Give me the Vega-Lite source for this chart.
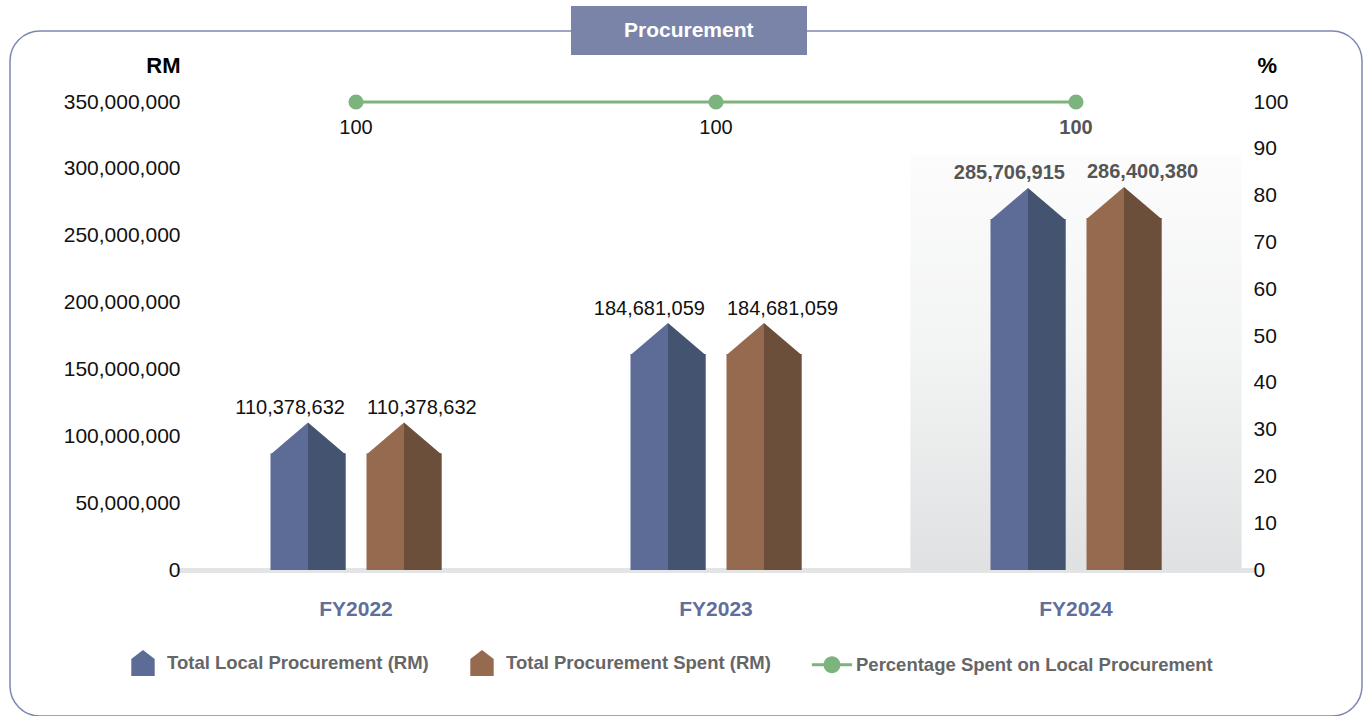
{
  "$schema": "https://vega.github.io/schema/vega-lite/v6.json",
  "width": 1352,
  "height": 685,
  "autosize": {"type": "none"},
  "padding": {"left": 10, "top": 31, "right": 10, "bottom": 0},
  "background": "white",
  "config": {
    "font": "Liberation Sans",
    "view": {"stroke": "#7d86b3", "strokeWidth": 1.5, "cornerRadius": 30},
    "axis": {"grid": false, "ticks": false, "domain": false, "labelFont": "Liberation Sans", "titleFont": "Liberation Sans"},
    "axisX": {"offset": -146, "domain": true, "domainColor": "#e3e4e5", "domainWidth": 5, "labelPadding": 28, "labelFontSize": 21, "labelFontWeight": "bold", "labelColor": "#5f6e9b", "labelAngle": 0},
    "axisLeft": {"offset": -174, "labelPadding": 4, "labelFontSize": 21, "labelColor": "#111111", "titleAngle": 0, "titleAlign": "right", "titleBaseline": "alphabetic", "titleX": -4, "titleY": 41, "titleFontSize": 22, "titleFontWeight": "bold", "titleColor": "#000000"},
    "axisRight": {"offset": -116, "labelPadding": 7, "labelFontSize": 21, "labelColor": "#111111", "titleAngle": 0, "titleAlign": "left", "titleBaseline": "alphabetic", "titleX": 11, "titleY": 41, "titleFontSize": 22, "titleFontWeight": "bold", "titleColor": "#000000"}
  },
  "datasets": {
    "bars": [
      {"year": "FY2022", "series": "Total Local Procurement (RM)", "value": 110378632},
      {"year": "FY2022", "series": "Total Procurement Spent (RM)", "value": 110378632},
      {"year": "FY2023", "series": "Total Local Procurement (RM)", "value": 184681059},
      {"year": "FY2023", "series": "Total Procurement Spent (RM)", "value": 184681059},
      {"year": "FY2024", "series": "Total Local Procurement (RM)", "value": 285706915},
      {"year": "FY2024", "series": "Total Procurement Spent (RM)", "value": 286400380}
    ],
    "pct": [
      {"year": "FY2022", "series": "Percentage Spent on Local Procurement", "pct": 100},
      {"year": "FY2023", "series": "Percentage Spent on Local Procurement", "pct": 100},
      {"year": "FY2024", "series": "Percentage Spent on Local Procurement", "pct": 100}
    ]
  },
  "resolve": {"scale": {"y": "independent"}},
  "layer": [
    {
      "data": {"name": "bars"},
      "encoding": {
        "x": {"field": "year", "type": "nominal", "title": null, "scale": {"domain": ["FY2022", "FY2023", "FY2024"], "range": [166, 1246], "paddingInner": 0, "paddingOuter": 0}}
      },
      "layer": [
        {
          "transform": [{"filter": "datum.year === 'FY2024' && datum.series === 'Total Local Procurement (RM)'"}],
          "mark": {"type": "bar", "width": {"band": 0.92}, "color": {"gradient": "linear", "x1": 0, "y1": 0, "x2": 0, "y2": 1, "stops": [{"offset": 0, "color": "#fcfcfc"}, {"offset": 0.45, "color": "#f3f4f4"}, {"offset": 1, "color": "#e0e1e2"}]}},
          "encoding": {
            "y": {"datum": 310000000, "type": "quantitative", "title": "RM", "scale": {"domain": [0, 350000000], "range": [539, 71], "nice": false}, "axis": {"orient": "left", "values": [0, 50000000, 100000000, 150000000, 200000000, 250000000, 300000000, 350000000], "format": ",d"}},
            "y2": {"datum": 0}
          }
        },
        {
          "mark": {"type": "bar", "width": 75, "yOffset": 31},
          "encoding": {
            "xOffset": {"field": "series", "type": "nominal", "scale": {"domain": ["Total Local Procurement (RM)", "Total Procurement Spent (RM)"], "paddingOuter": 0.875, "paddingInner": 0}},
            "y": {"field": "value", "type": "quantitative", "title": "RM"},
            "y2": {"datum": 0},
            "color": {"condition": {"test": "datum.series === 'Total Local Procurement (RM)'", "value": "#5c6c96"}, "value": "#966a4e"}
          }
        },
        {
          "transform": [{"filter": "datum.series === 'Total Local Procurement (RM)'"}],
          "mark": {"type": "rule", "strokeWidth": 37.5, "strokeCap": "butt", "xOffset": -29.25, "yOffset": 31, "color": "#44536f"},
          "encoding": {
            "y": {"field": "value", "type": "quantitative", "title": "RM"},
            "y2": {"datum": 0}
          }
        },
        {
          "transform": [{"filter": "datum.series === 'Total Procurement Spent (RM)'"}],
          "mark": {"type": "rule", "strokeWidth": 37.5, "strokeCap": "butt", "xOffset": 66.75, "yOffset": 31, "color": "#6c4f3b"},
          "encoding": {
            "y": {"field": "value", "type": "quantitative", "title": "RM"},
            "y2": {"datum": 0}
          }
        },
        {
          "mark": {"type": "point", "shape": "M0,0 L0,0.853 L-1,0.853 Z", "size": 5625, "filled": true, "opacity": 1, "strokeWidth": 0},
          "encoding": {
            "xOffset": {"field": "series", "type": "nominal"},
            "y": {"field": "value", "type": "quantitative", "title": "RM"},
            "color": {"condition": {"test": "datum.series === 'Total Local Procurement (RM)'", "value": "#5c6c96"}, "value": "#966a4e"}
          }
        },
        {
          "mark": {"type": "point", "shape": "M0,0 L1,0.853 L0,0.853 Z", "size": 5625, "filled": true, "opacity": 1, "strokeWidth": 0},
          "encoding": {
            "xOffset": {"field": "series", "type": "nominal"},
            "y": {"field": "value", "type": "quantitative", "title": "RM"},
            "color": {"condition": {"test": "datum.series === 'Total Local Procurement (RM)'", "value": "#44536f"}, "value": "#6c4f3b"}
          }
        },
        {
          "transform": [{"filter": "datum.year !== 'FY2024' && datum.series === 'Total Local Procurement (RM)'"}],
          "mark": {"type": "text", "align": "right", "baseline": "alphabetic", "dx": 37, "dy": -8, "fontSize": 20, "color": "#111111"},
          "encoding": {
            "xOffset": {"field": "series", "type": "nominal"},
            "y": {"field": "value", "type": "quantitative", "title": "RM"},
            "text": {"field": "value", "type": "quantitative", "format": ",d"}
          }
        },
        {
          "transform": [{"filter": "datum.year !== 'FY2024' && datum.series === 'Total Procurement Spent (RM)'"}],
          "mark": {"type": "text", "align": "left", "baseline": "alphabetic", "dx": -37, "dy": -8, "fontSize": 20, "color": "#111111"},
          "encoding": {
            "xOffset": {"field": "series", "type": "nominal"},
            "y": {"field": "value", "type": "quantitative", "title": "RM"},
            "text": {"field": "value", "type": "quantitative", "format": ",d"}
          }
        },
        {
          "transform": [{"filter": "datum.year === 'FY2024' && datum.series === 'Total Local Procurement (RM)'"}],
          "mark": {"type": "text", "align": "right", "baseline": "alphabetic", "dx": 37, "dy": -9, "fontSize": 20, "fontWeight": "bold", "color": "#555555"},
          "encoding": {
            "xOffset": {"field": "series", "type": "nominal"},
            "y": {"field": "value", "type": "quantitative", "title": "RM"},
            "text": {"field": "value", "type": "quantitative", "format": ",d"}
          }
        },
        {
          "transform": [{"filter": "datum.year === 'FY2024' && datum.series === 'Total Procurement Spent (RM)'"}],
          "mark": {"type": "text", "align": "left", "baseline": "alphabetic", "dx": -37, "dy": -9, "fontSize": 20, "fontWeight": "bold", "color": "#555555"},
          "encoding": {
            "xOffset": {"field": "series", "type": "nominal"},
            "y": {"field": "value", "type": "quantitative", "title": "RM"},
            "text": {"field": "value", "type": "quantitative", "format": ",d"}
          }
        },
        {
          "transform": [{"filter": "false"}],
          "mark": {"type": "point", "filled": true, "opacity": 1},
          "encoding": {
            "color": {"field": "series", "type": "nominal", "scale": {"domain": ["Total Local Procurement (RM)", "Total Procurement Spent (RM)", "Percentage Spent on Local Procurement"], "range": ["#5c6c96", "#966a4e", "#7db37c"]}, "legend": {"orient": "none", "legendX": 120, "legendY": 619, "direction": "horizontal", "title": null, "padding": 0, "labelFont": "Liberation Sans", "labelFontSize": 18.5, "labelFontWeight": "bold", "labelColor": "#666666", "labelLimit": 500, "symbolSize": 676, "labelOffset": 11, "columnPadding": 40, "symbolStrokeWidth": 0, "symbolOpacity": 1}},
            "shape": {"field": "series", "type": "nominal", "scale": {"domain": ["Total Local Procurement (RM)", "Total Procurement Spent (RM)", "Percentage Spent on Local Procurement"], "range": ["M-0.9,1 L-0.9,-0.3 L0,-1 L0.9,-0.3 L0.9,1 Z", "M-0.9,1 L-0.9,-0.3 L0,-1 L0.9,-0.3 L0.9,1 Z", "M-1.55,-0.12 L1.55,-0.12 L1.55,0.12 L-1.55,0.12 Z M-0.65,0 A0.65,0.65 0 1,1 0.65,0 A0.65,0.65 0 1,1 -0.65,0 Z"]}}
          }
        }
      ]
    },
    {
      "data": {"name": "pct"},
      "encoding": {
        "x": {"field": "year", "type": "nominal", "title": null}
      },
      "layer": [
        {
          "mark": {"type": "line", "color": "#7db37c", "strokeWidth": 3},
          "encoding": {
            "y": {"field": "pct", "type": "quantitative", "title": "%", "scale": {"domain": [0, 100], "range": [539, 71], "nice": false}, "axis": {"orient": "right", "values": [0, 10, 20, 30, 40, 50, 60, 70, 80, 90, 100]}},
            "strokeDash": {"datum": "Procurement", "type": "nominal", "scale": {"domain": ["Procurement", "pad"], "range": [[1, 0], [1, 0]]}, "legend": {"orient": "none", "legendX": 561, "legendY": -25, "direction": "horizontal", "title": null, "fillColor": "#7a84a8", "padding": 14, "columnPadding": 0, "labelFont": "Liberation Sans", "labelFontSize": 21, "labelFontWeight": "bold", "labelColor": "#ffffff", "labelLimit": 1000, "labelOffset": 18, "symbolSize": 441, "symbolOpacity": 0, "symbolStrokeWidth": 0, "labelExpr": "datum.value === 'Procurement' ? 'Procurement' : ''"}}
          }
        },
        {
          "mark": {"type": "point", "filled": true, "opacity": 1, "size": 227, "color": "#7db37c"},
          "encoding": {"y": {"field": "pct", "type": "quantitative"}}
        },
        {
          "transform": [{"filter": "datum.year !== 'FY2024'"}],
          "mark": {"type": "text", "baseline": "alphabetic", "dy": 32, "fontSize": 20, "color": "#111111"},
          "encoding": {"y": {"field": "pct", "type": "quantitative"}, "text": {"field": "pct", "type": "quantitative"}}
        },
        {
          "transform": [{"filter": "datum.year === 'FY2024'"}],
          "mark": {"type": "text", "baseline": "alphabetic", "dy": 32, "fontSize": 20, "fontWeight": "bold", "color": "#555555"},
          "encoding": {"y": {"field": "pct", "type": "quantitative"}, "text": {"field": "pct", "type": "quantitative"}}
        }
      ]
    }
  ]
}
